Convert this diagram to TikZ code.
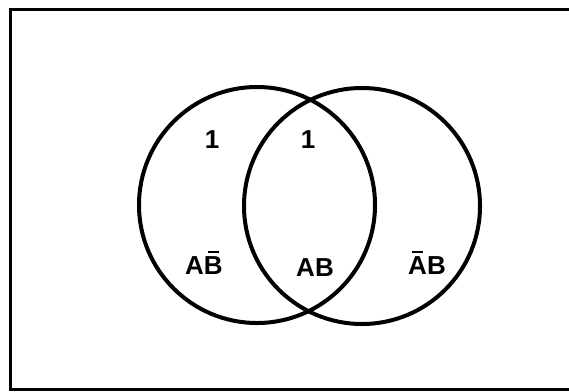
\documentclass[tikz,border=0pt]{standalone}
\usepackage{fontspec}
\setmainfont{Liberation Sans}
\newcommand{\barred}[1]{\ooalign{#1\cr\hidewidth\rule[0.84em]{0.42em}{0.1em}\hidewidth\cr}}

\begin{document}
\begin{tikzpicture}[x=1pt, y=-1pt]
    \useasboundingbox (0,0) rectangle (569,391);

    % Draw frame
    \draw[line width=3pt] (569,9) -| (10,389) -- (569,389);

    % Draw circles
    \node[circle, draw, line width=4pt, minimum size=236pt, inner sep=0pt] (A) at (257,205) {};
    \node[circle, draw, line width=4pt, minimum size=236pt, inner sep=0pt] (B) at (362,206) {};

    % Labels
    \node[font=\fontsize{26}{26}\selectfont\bfseries] (oneA) at (212,140) {1};
    \node[font=\fontsize{26}{26}\selectfont\bfseries] (oneAB) at (308,140) {1};
    \node[font=\fontsize{26}{26}\selectfont\bfseries] (AnotB) at (204,266) {A\barred{B}};
    \node[font=\fontsize{26}{26}\selectfont\bfseries] (AB) at (315,268) {AB};
    \node[font=\fontsize{26}{26}\selectfont\bfseries] (notAB) at (427,266) {\barred{A}B};
\end{tikzpicture}
\end{document}
